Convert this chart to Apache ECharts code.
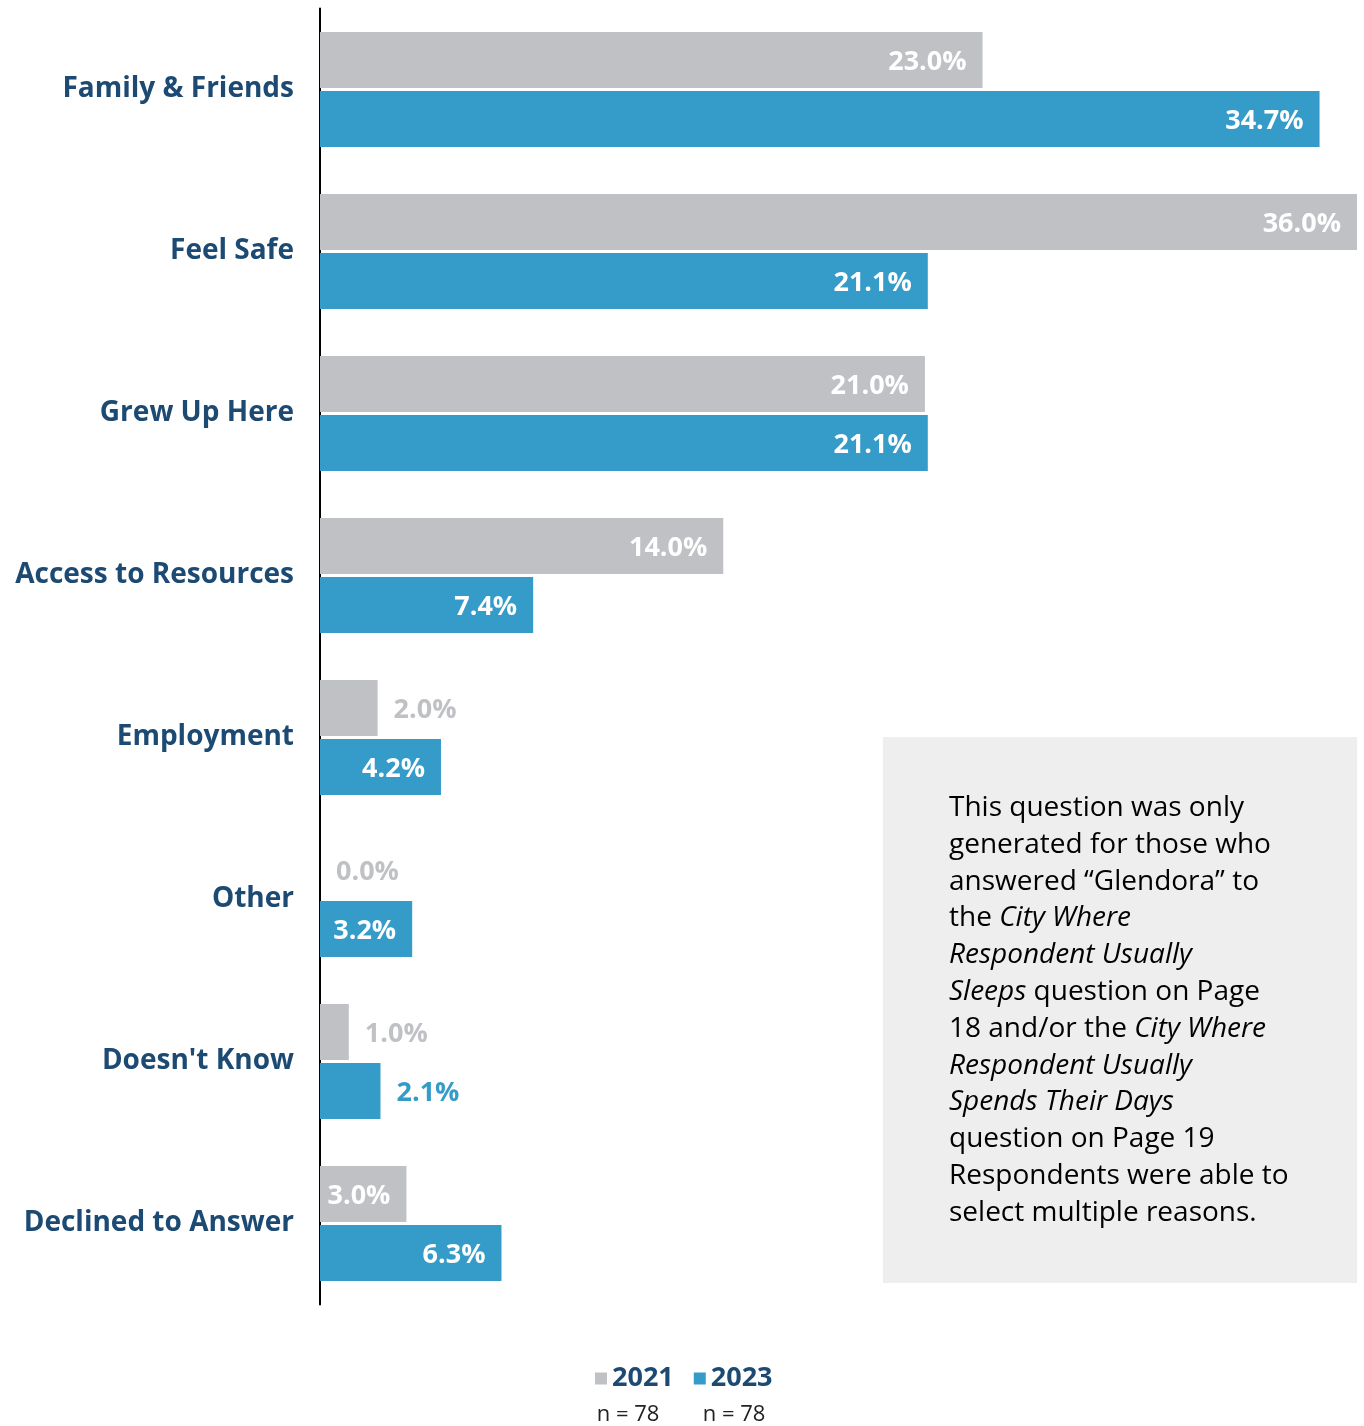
<!DOCTYPE html>
<html>
<head>
<meta charset="utf-8">
<script src="https://cdn.jsdelivr.net/npm/echarts@6/dist/echarts.min.js"></script>
<style>
  html, body { margin: 0; padding: 0; background: #ffffff; }
  #chart { width: 1364px; height: 1426px; }
</style>
</head>
<body>
<div id="chart"></div>
<script>
const categories = ['Family & Friends', 'Feel Safe', 'Grew Up Here', 'Access to Resources', 'Employment', 'Other', "Doesn't Know", 'Declined to Answer']
const values2021 = [23.0, 36.0, 21.0, 14.0, 2.0, 0.0, 1.0, 3.0]
const values2023 = [34.7, 21.1, 21.1, 7.4, 4.2, 3.2, 2.1, 6.3]
const years = ['2021', '2023']
const sampleSizes = ['n = 78', 'n = 78']

const gray = '#bfc1c5'
const blue = '#359bc9'
const navy = '#1c4a72'
const fontFam = '"Open Sans", "Noto Sans", sans-serif'

// short bars get their label outside, in the bar colour
function toData(arr, color) {
  return arr.map(function (v) {
    if (v < 2.5) {
      return { value: v, label: { position: 'right', color: color } }
    }
    return v
  })
}

const chart = echarts.init(document.getElementById('chart'))

const barLabel = {
  show: true,
  position: 'insideRight',
  distance: 16,
  offset: [0, 2],
  color: '#ffffff',
  fontFamily: fontFam,
  fontWeight: 'bold',
  fontSize: 27,
  formatter: function (p) { return p.value.toFixed(1) + '%' }
}

const option = {
  backgroundColor: '#ffffff',
  animation: false,
  grid: { left: 320, top: 8.5, width: 1037, height: 1296 },
  xAxis: {
    type: 'value',
    min: 0,
    max: 36,
    show: false
  },
  yAxis: {
    type: 'category',
    inverse: true,
    data: categories,
    axisLine: { show: true, lineStyle: { color: '#000000', width: 2 } },
    axisTick: { show: false },
    axisLabel: {
      margin: 26,
      color: navy,
      fontFamily: fontFam,
      fontWeight: 'bold',
      fontSize: 28,
      padding: [4, 0, 0, 0]
    }
  },
  legend: {
    left: 590,
    top: 1360,
    icon: 'rect',
    itemWidth: 12,
    itemHeight: 12,
    itemGap: 20,
    data: years,
    textStyle: { color: navy, fontFamily: fontFam, fontWeight: 'bold', fontSize: 27 }
  },
  series: [
    {
      name: years[0],
      type: 'bar',
      barWidth: 56,
      barGap: '5%',
      itemStyle: { color: gray },
      label: barLabel,
      data: toData(values2021, gray)
    },
    {
      name: years[1],
      type: 'bar',
      barWidth: 56,
      itemStyle: { color: blue },
      label: barLabel,
      data: toData(values2023, blue)
    }
  ],
  graphic: [
    {
      type: 'rect',
      shape: { x: 883, y: 737, width: 474, height: 546 },
      style: { fill: '#eeeeee' }
    },
    {
      type: 'text',
      left: 949,
      top: 794,
      style: {
        text: [
          '{n|This question was only}',
          '{n|generated for those who}',
          '{n|answered “Glendora” to}',
          '{n|the }{i|City Where}',
          '{i|Respondent Usually}',
          '{i|Sleeps}{n| question on Page}',
          '{n|18 and/or the }{i|City Where}',
          '{i|Respondent Usually}',
          '{i|Spends Their Days}',
          '{n|question on Page 19}',
          '{n|Respondents were able to}',
          '{n|select multiple reasons.}'
        ].join('\n'),
        rich: {
          n: { fontFamily: fontFam, fontSize: 28, color: '#1a1a1a', lineHeight: 36.8 },
          i: { fontFamily: fontFam, fontSize: 28, fontStyle: 'italic', color: '#1a1a1a', lineHeight: 36.8 }
        }
      }
    },
    {
      type: 'text',
      x: 628,
      y: 1415,
      style: { text: sampleSizes[0], fontFamily: fontFam, fontSize: 22, fill: '#222222', align: 'center', verticalAlign: 'middle' }
    },
    {
      type: 'text',
      x: 734,
      y: 1415,
      style: { text: sampleSizes[1], fontFamily: fontFam, fontSize: 22, fill: '#222222', align: 'center', verticalAlign: 'middle' }
    }
  ]
}

chart.setOption(option)
window.addEventListener('resize', function () {
  chart.resize()
})
</script>
</body>
</html>
